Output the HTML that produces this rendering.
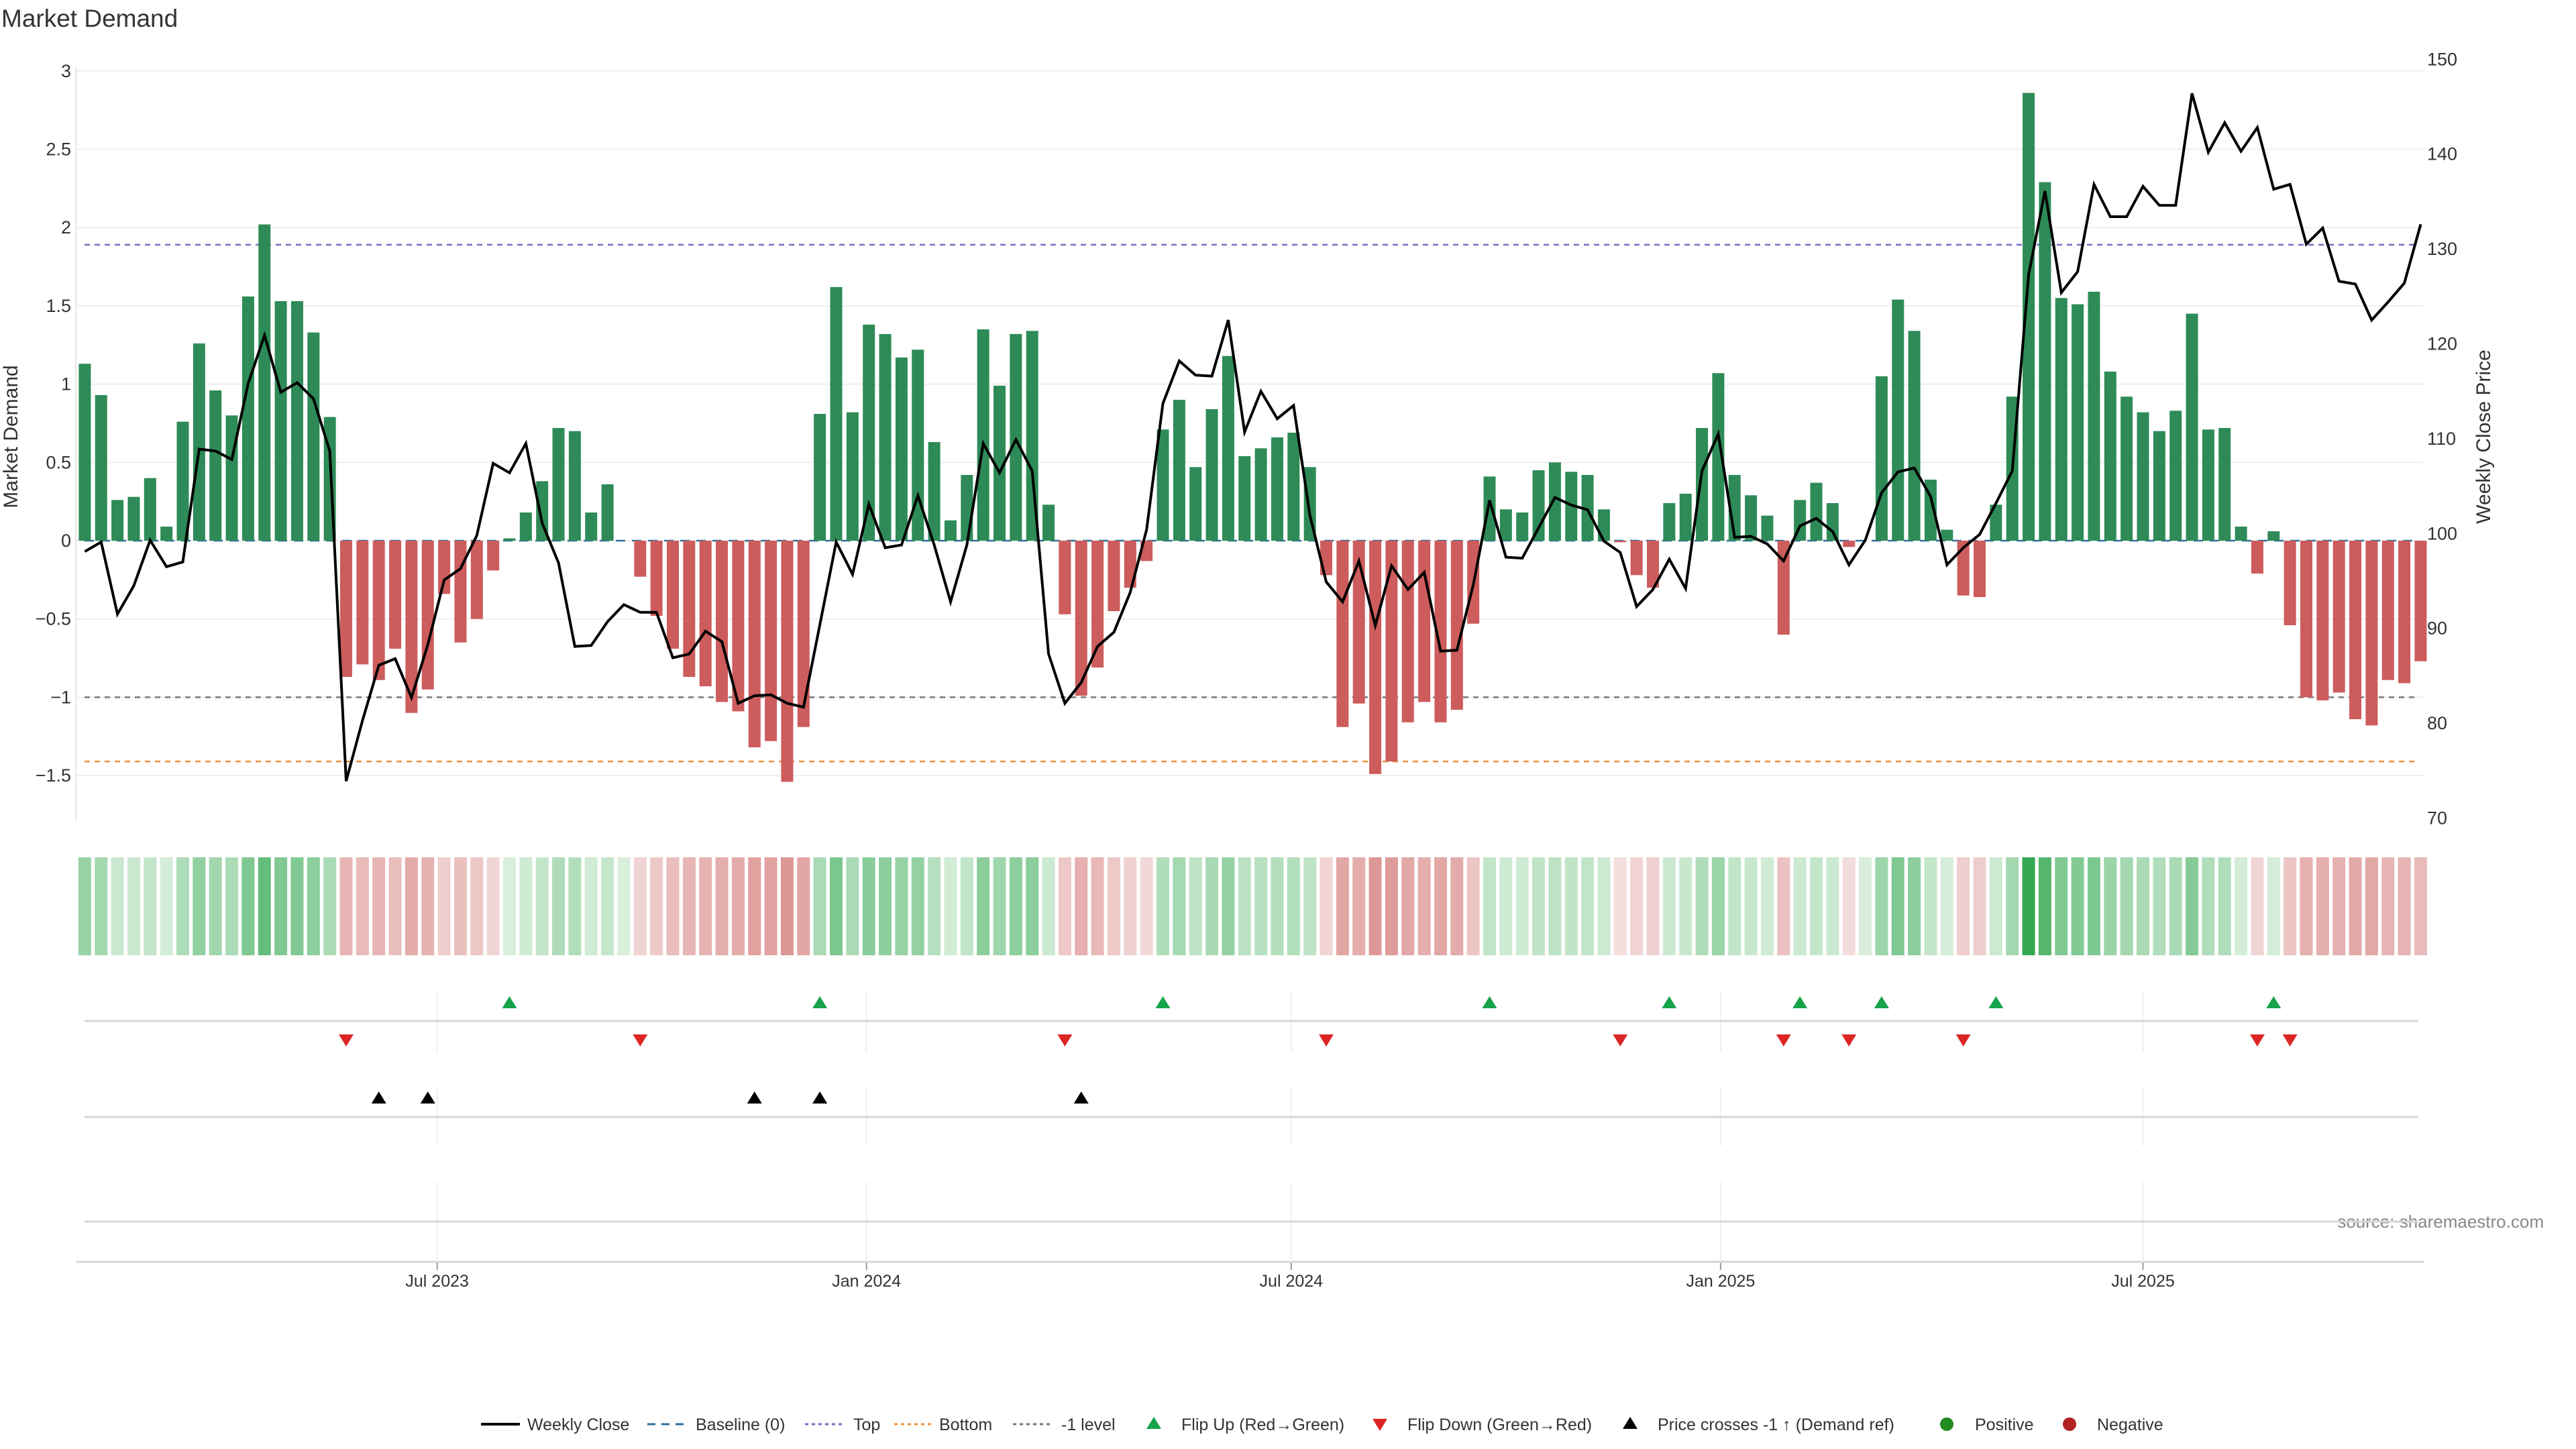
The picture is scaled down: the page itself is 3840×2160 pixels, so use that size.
<!DOCTYPE html>
<html><head><meta charset="utf-8"><title>Market Demand</title>
<style>
html,body{margin:0;padding:0;background:#fff;}
svg{display:block;font-family:"Liberation Sans","DejaVu Sans",sans-serif;}
</style></head>
<body>
<svg id="chart" width="3840" height="2160" viewBox="0 0 3840 2160" xmlns="http://www.w3.org/2000/svg">
<rect x="0" y="0" width="3840" height="2160" fill="#ffffff"/>
<text x="2" y="40" font-size="37" fill="#333">Market Demand</text>
<text transform="translate(26,651) rotate(-90)" text-anchor="middle" font-size="30" fill="#333">Market Demand</text>
<text transform="translate(3712,651) rotate(-90)" text-anchor="middle" font-size="30" fill="#333">Weekly Close Price</text>
<text x="3792" y="1830" text-anchor="end" font-size="26" fill="#888">source: sharemaestro.com</text>
<g id="g-grid"></g><g id="g-ref"></g><g id="g-bars"></g><g id="g-line"></g><g id="g-axes"></g><g id="g-strip"></g><g id="g-events"></g><g id="g-legend"></g>
</svg>
<script>
const demand = [1.13,0.93,0.26,0.28,0.40,0.09,0.76,1.26,0.96,0.80,1.56,2.02,1.53,1.53,1.33,0.79,-0.87,-0.79,-0.89,-0.69,-1.10,-0.95,-0.34,-0.65,-0.50,-0.19,0.015,0.18,0.38,0.72,0.70,0.18,0.36,0,-0.23,-0.48,
-0.69,-0.87,-0.93,-1.03,-1.09,-1.32,-1.28,-1.54,-1.19,0.81,1.62,0.82,1.38,1.32,1.17,1.22,0.63,0.13,0.42,1.35,0.99,1.32,1.34,0.23,-0.47,-0.99,-0.81,-0.45,-0.30,-0.13,0.71,0.90,0.47,0.84,1.18,0.54,
0.59,0.66,0.69,0.47,-0.22,-1.19,-1.04,-1.49,-1.41,-1.16,-1.03,-1.16,-1.08,-0.53,0.41,0.20,0.18,0.45,0.50,0.44,0.42,0.20,-0.01,-0.22,-0.30,0.24,0.30,0.72,1.07,0.42,0.29,0.16,-0.60,0.26,0.37,0.24,-0.04,
0,1.05,1.54,1.34,0.39,0.07,-0.35,-0.36,0.23,0.92,2.86,2.29,1.55,1.51,1.59,1.08,0.92,0.82,0.70,0.83,1.45,0.71,0.72,0.09,-0.21,0.06,-0.54,-1.00,-1.02,-0.97,-1.14,-1.18,-0.89,-0.91,-0.77];
const price = [98.1,99.1,91.5,94.5,99.3,96.5,97.0,108.9,108.7,107.8,115.8,120.9,114.9,115.9,114.2,108.7,73.9,80.3,86.1,86.8,82.7,88.3,95.1,96.3,99.8,107.4,106.4,109.5,101.1,96.9,88.1,88.2,90.7,92.5,91.7,91.7,
86.9,87.3,89.7,88.6,82.1,82.9,83.0,82.1,81.7,90.4,99.1,95.7,103.1,98.5,98.8,104.0,98.8,92.8,98.8,109.5,106.4,109.9,106.6,87.3,82.1,84.3,88.1,89.6,93.8,100.4,113.7,118.2,116.7,116.6,122.5,110.7,
115.0,112.1,113.5,101.9,94.9,92.8,97.1,90.3,96.6,94.1,95.9,87.6,87.7,94.6,103.5,97.5,97.4,100.6,103.8,103.0,102.5,99.2,98.0,92.3,94.1,97.3,94.2,106.6,110.5,99.6,99.7,98.9,97.1,100.8,101.6,100.2,96.7,
99.3,104.3,106.5,106.9,103.9,96.7,98.5,99.9,103.2,106.6,127.3,136.1,125.4,127.6,136.8,133.4,133.4,136.6,134.6,134.6,146.4,140.2,143.3,140.3,142.8,136.3,136.8,130.5,132.2,126.6,126.3,122.5,124.4,126.4,132.6];
const crossIdx = [18,21,41,45,61];
const leftTicks = [3,2.5,2,1.5,1,0.5,0,-0.5,-1,-1.5];
const rightTicks = [150,140,130,120,110,100,90,80,70];
const refTop = 1.89, refBottom = -1.41, refMinus = -1;
const startDate = "2023-01-31";
const tickDates = ["2023-07-01","2024-01-01","2024-07-01","2025-01-01","2025-07-01"];
const tickLabels = ["Jul 2023","Jan 2024","Jul 2024","Jan 2025","Jul 2025"];

const NS="http://www.w3.org/2000/svg";
function mk(parent,tag,attrs,txt){const e=document.createElementNS(NS,tag);for(const k in attrs)e.setAttribute(k,attrs[k]);if(txt!==undefined)e.textContent=txt;document.getElementById(parent).appendChild(e);return e;}
const X0=126.4, DX=24.35, PL=113, PR=3612;
const x=i=>X0+i*DX;
const yL=v=>806-v*233.4;
const yR=p=>795.3-(p-100)*14.14;
const dayIdx=d=>(new Date(d)-new Date(startDate))/(7*86400000);
const fmt=v=>(v<0?"\u2212":"")+Math.abs(v);

// grid + left ticks
leftTicks.forEach(v=>{
  let g=mk("g-grid","line",{x1:PL,x2:PR,y1:yL(v),y2:yL(v),stroke:"#eeeeee","stroke-width":2});
  
  
  let t=mk("g-axes","text",{x:106,y:yL(v)+9,"text-anchor":"end","font-size":27,fill:"#333"},fmt(v));
  
  
});
rightTicks.forEach(p=>{
  let t=mk("g-axes","text",{x:3618,y:yR(p)+9,"font-size":27,fill:"#333"},String(p));
  
  
});
let sp=mk("g-axes","line",{x1:PL,x2:PL,y1:100,y2:1222,stroke:"#e6e6e6","stroke-width":2});



// reference lines
[[refTop,"#7a6cc4","top-line"],[refMinus,"#777777","minus-one-line"],[refBottom,"#f0913a","bottom-line"]].forEach(r=>{
  let l=mk("g-ref","line",{x1:126,x2:3600,y1:yL(r[0]),y2:yL(r[0]),stroke:r[1],"stroke-width":2.5,"stroke-dasharray":"8 7"});
  
  
});
let bl=mk("g-ref","line",{x1:126,x2:3600,y1:yL(0),y2:yL(0),stroke:"#2f6f99","stroke-width":2.5,"stroke-dasharray":"14 10"});



// bars
demand.forEach((v,i)=>{
  if(v===0)return;
  const y0=yL(0),y1=yL(v);
  let b=mk("g-bars","rect",{x:x(i)-9,width:18,y:Math.min(y0,y1),height:Math.abs(y1-y0),fill:v>0?"#2e8b57":"#cd5c5c"});
  
  
});
// price line
let pl=mk("g-line","polyline",{points:price.map((p,i)=>x(i).toFixed(1)+","+yR(p).toFixed(1)).join(" "),fill:"none",stroke:"#000","stroke-width":4,"stroke-linejoin":"miter"});



// heat strip
const maxAbs=Math.max(...demand.map(Math.abs));
function mix(a,b,t){return "rgb("+a.map((c,k)=>Math.round(c+(b[k]-c)*t)).join(",")+")";}
demand.forEach((v,i)=>{
  const t=Math.min(1,Math.abs(v)/maxAbs);
  const c=v>=0?mix([217,239,220],[52,168,83],t):mix([244,222,222],[200,90,85],t);
  let r=mk("g-strip","rect",{x:x(i)-9.5,width:19,y:1278,height:146,fill:c});
  
  
});

// lower panels: grid at ticks, lines
tickDates.forEach((d,k)=>{
  const tx=x(dayIdx(d));
  [[1478,1567],[1620,1708],[1762,1881]].forEach(s=>{
    let g=mk("g-events","line",{x1:tx,x2:tx,y1:s[0],y2:s[1],stroke:"#eeeeee","stroke-width":2});
    
    
  });
  let tk=mk("g-axes","line",{x1:tx,x2:tx,y1:1881,y2:1893,stroke:"#999","stroke-width":2});
  
  
  let t=mk("g-axes","text",{x:tx,y:1918,"text-anchor":"middle","font-size":25,fill:"#333"},tickLabels[k]);
  
  
});
[[126,1522],[126,1665],[126,1821]].forEach(s=>{
  let l=mk("g-events","line",{x1:s[0],x2:3605,y1:s[1],y2:s[1],stroke:"#d6d6d6","stroke-width":3});
  
  
});
let xa=mk("g-axes","line",{x1:114,x2:3614,y1:1881,y2:1881,stroke:"#d6d6d6","stroke-width":3});



function tri(parent,cx,cy,up,color){
  const w=11,h=9;
  const pts=up?`${cx-w},${cy+h} ${cx+w},${cy+h} ${cx},${cy-h}`:`${cx-w},${cy-h} ${cx+w},${cy-h} ${cx},${cy+h}`;
  return mk(parent,"polygon",{points:pts,fill:color});
}
for(let i=1;i<demand.length;i++){
  if(demand[i]>0&&demand[i-1]<=0){
    let m=tri("g-events",x(i),1494,true,"#16a34a");
    
    
  }
  if(demand[i]<0&&demand[i-1]>=0){
    let m=tri("g-events",x(i),1551,false,"#dc2626");
    
    
  }
}
crossIdx.forEach(i=>{
  let m=tri("g-events",x(i),1636,true,"#000");
  
  
});

// legend
const LY=2123;
function ltext(xx,s,name){let t=mk("g-legend","text",{x:xx,y:LY+9,"font-size":25,fill:"#333"},s);}
function lline(x1,x2,col,dash,w,name){let l=mk("g-legend","line",{x1:x1,x2:x2,y1:LY,y2:LY,stroke:col,"stroke-width":w,"stroke-dasharray":dash});}
lline(717,775,"#000","none",4,"legend-close-swatch"); ltext(786,"Weekly Close","legend-weekly-close");
lline(965,1023,"#2f6f99","12 9",3,"legend-baseline-swatch"); ltext(1037,"Baseline (0)","legend-baseline");
lline(1200,1258,"#7a6cc4","5 5",3,"legend-top-swatch"); ltext(1272,"Top","legend-top");
lline(1333,1388,"#f0913a","5 5",3,"legend-bottom-swatch"); ltext(1400,"Bottom","legend-bottom");
lline(1510,1566,"#777","5 5",3,"legend-minus-one-swatch"); ltext(1582,"-1 level","legend-minus-one");
let a=tri("g-legend",1720,LY-2,true,"#16a34a");  
ltext(1761,"Flip Up (Red\u2192Green)","legend-flip-up");
let b2=tri("g-legend",2057,LY+1,false,"#dc2626");  
ltext(2098,"Flip Down (Green\u2192Red)","legend-flip-down");
let c=tri("g-legend",2430,LY-2,true,"#000");  
ltext(2471,"Price crosses -1 \u2191 (Demand ref)","legend-price-cross");
let d1=mk("g-legend","circle",{cx:2902,cy:LY,r:10,fill:"#228b22"});  
ltext(2944,"Positive","legend-positive");
let d2=mk("g-legend","circle",{cx:3085,cy:LY,r:10,fill:"#b22222"});  
ltext(3126,"Negative","legend-negative");
</script>
</body></html>
